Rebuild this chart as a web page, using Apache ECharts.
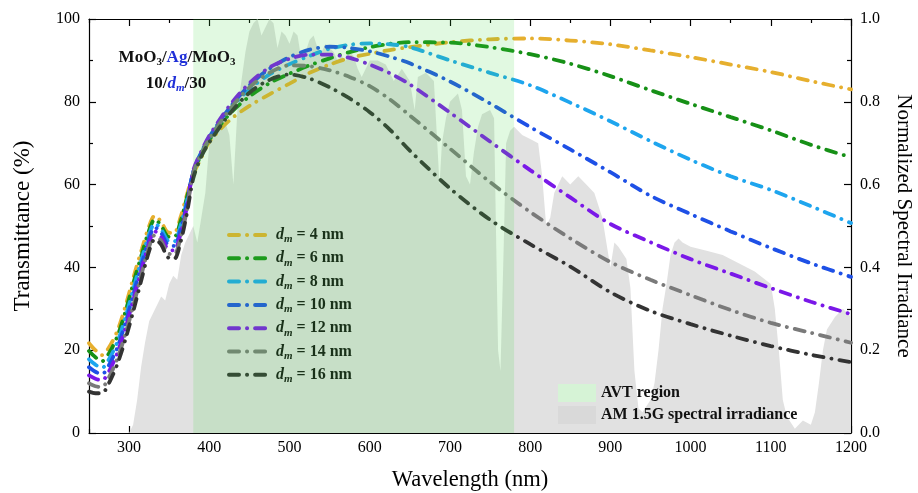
<!DOCTYPE html>
<html>
<head>
<meta charset="utf-8">
<script src="https://cdn.jsdelivr.net/npm/echarts@6/dist/echarts.min.js"></script>
<style>
  html, body { margin: 0; padding: 0; background: #fff; }
  #chart { width: 918px; height: 493px; }
</style>
</head>
<body>
<div id="chart"></div>
<script>
// Wavelength grid (nm) of the transmittance spectra
const wavelengths = [250, 258, 266, 276, 286, 296, 306, 316, 325, 332, 340, 348, 356, 364, 372, 380, 390,
  400, 425, 450, 475, 500, 525, 550, 575, 600, 625, 650, 700, 750, 800, 850, 900, 950, 1000, 1050, 1100, 1150, 1200];

// Transmittance (%) for each Ag thickness d_m
const trans4 = [21.7, 20.0, 18.8, 21.0, 25.0, 31.0, 38.0, 44.5, 50.0, 52.5, 51.0, 48.5, 48.3, 52.0, 57.5, 62.5, 66.5,
  70.3, 75.5, 79.0, 81.8, 84.4, 87.0, 89.0, 90.6, 91.6, 92.5, 93.2, 94.4, 95.1, 95.3, 94.8, 93.9, 92.4, 90.8, 89.0, 87.2, 85.0, 83.0];
const trans6 = [19.8, 18.3, 17.3, 19.6, 23.7, 29.7, 36.7, 43.3, 49.0, 51.6, 50.1, 47.5, 47.3, 51.0, 56.8, 62.8, 67.2,
  70.8, 77.0, 81.3, 84.5, 86.8, 88.8, 90.5, 92.0, 93.2, 94.0, 94.4, 94.3, 93.2, 91.5, 89.2, 86.2, 82.8, 79.5, 76.3, 73.1, 69.6, 66.6];
const trans8 = [17.8, 16.5, 15.7, 18.2, 22.3, 28.3, 35.3, 42.2, 48.0, 50.6, 49.2, 46.5, 46.2, 50.0, 56.0, 63.0, 67.6,
  71.2, 78.0, 83.0, 86.6, 89.1, 91.1, 92.8, 93.8, 94.1, 93.9, 93.2, 90.0, 87.0, 84.0, 79.8, 75.3, 70.5, 66.0, 62.0, 58.7, 54.8, 50.7];
const trans10 = [15.9, 14.8, 14.2, 16.8, 21.0, 27.0, 34.0, 41.0, 47.0, 49.7, 48.3, 45.5, 45.2, 49.0, 55.3, 63.2, 67.8,
  71.5, 78.5, 84.0, 88.0, 90.8, 92.6, 93.3, 93.0, 92.2, 90.9, 89.3, 84.9, 79.6, 73.9, 68.5, 63.0, 57.3, 52.9, 48.7, 44.7, 41.0, 37.7];
const trans12 = [13.9, 13.1, 12.7, 15.3, 19.7, 25.7, 32.7, 39.8, 46.0, 48.7, 47.3, 44.5, 44.1, 48.0, 54.5, 63.4, 68.0,
  71.8, 79.0, 84.5, 88.3, 90.4, 91.4, 91.4, 90.6, 89.0, 86.9, 84.2, 77.4, 70.4, 63.5, 56.9, 50.5, 46.1, 42.0, 38.5, 35.0, 31.7, 28.7];
const trans14 = [12.0, 11.3, 11.1, 13.9, 18.3, 24.3, 31.3, 38.7, 45.0, 47.8, 46.4, 43.5, 43.1, 47.0, 53.8, 62.8, 67.5,
  71.0, 78.0, 83.5, 87.0, 88.8, 88.6, 87.6, 86.0, 83.8, 80.6, 76.7, 68.7, 60.6, 53.4, 47.0, 41.3, 37.0, 33.3, 29.7, 26.6, 24.2, 21.8];
const trans16 = [10.0, 9.6, 9.6, 12.5, 17.0, 23.0, 30.0, 37.5, 44.0, 46.8, 45.5, 42.5, 42.0, 46.0, 53.0, 61.5, 66.8,
  70.2, 77.0, 82.2, 85.3, 86.6, 85.6, 83.5, 80.8, 77.5, 73.3, 68.2, 59.1, 51.5, 45.6, 40.2, 34.0, 29.5, 26.3, 23.5, 21.0, 18.9, 17.1];

const thicknesses = [4, 6, 8, 10, 12, 14, 16];
const transSeries = [trans4, trans6, trans8, trans10, trans12, trans14, trans16];
const lineColors = ['#E6AF2E', '#169016', '#1EA5EE', '#1E50E6', '#7A18E8', '#7A7A7A', '#333333'];

// AM 1.5G spectral irradiance, normalised to its maximum
const specWl = [300, 305, 310, 315, 320, 325, 330, 335, 340, 345,
  350, 355, 360, 365, 370, 375, 380, 385, 390, 395,
  400, 405, 410, 415, 420, 425, 430, 435, 440, 445,
  450, 455, 460, 465, 470, 475, 480, 485, 490, 495,
  500, 505, 510, 515, 520, 525, 530, 535, 540, 545,
  550, 555, 560, 565, 570, 575, 580, 585, 590, 595,
  600, 610, 620, 630, 640, 650, 656, 660, 670, 680,
  687, 690, 695, 700, 710, 715, 720, 725, 730, 735,
  740, 750, 755, 760, 763, 767, 770, 775, 780, 790,
  800, 810, 815, 820, 825, 830, 840, 850, 860, 870,
  880, 890, 900, 905, 910, 920, 925, 930, 935, 940,
  950, 955, 960, 965, 970, 975, 980, 985, 990, 1000,
  1020, 1040, 1060, 1080, 1100, 1105, 1110, 1115, 1120, 1130,
  1140, 1150, 1155, 1160, 1165, 1170, 1180, 1190, 1200];
const specVal = [0.00, 0.02, 0.08, 0.16, 0.22, 0.27, 0.29, 0.31, 0.33, 0.32,
  0.36, 0.38, 0.37, 0.43, 0.46, 0.48, 0.50, 0.46, 0.52, 0.58,
  0.70, 0.72, 0.74, 0.76, 0.75, 0.72, 0.60, 0.78, 0.85, 0.92,
  0.97, 0.99, 1.00, 0.96, 0.98, 1.00, 0.99, 0.93, 0.97, 0.96,
  0.94, 0.97, 0.96, 0.90, 0.92, 0.95, 0.96, 0.93, 0.92, 0.94,
  0.93, 0.92, 0.90, 0.91, 0.90, 0.92, 0.91, 0.88, 0.86, 0.88,
  0.90, 0.90, 0.89, 0.85, 0.88, 0.85, 0.78, 0.86, 0.87, 0.85,
  0.60, 0.70, 0.76, 0.80, 0.82, 0.78, 0.62, 0.60, 0.68, 0.74,
  0.77, 0.78, 0.76, 0.20, 0.15, 0.45, 0.70, 0.73, 0.74, 0.72,
  0.71, 0.70, 0.62, 0.50, 0.52, 0.58, 0.62, 0.60, 0.62, 0.60,
  0.58, 0.52, 0.40, 0.46, 0.45, 0.42, 0.35, 0.15, 0.06, 0.05,
  0.08, 0.12, 0.20, 0.30, 0.36, 0.43, 0.46, 0.47, 0.46, 0.45,
  0.44, 0.43, 0.41, 0.39, 0.36, 0.30, 0.20, 0.08, 0.04, 0.01,
  0.03, 0.02, 0.05, 0.12, 0.20, 0.25, 0.28, 0.30, 0.28];

// Average visible transmittance window (nm) and its full height (%)
const avtRange = [380, 780];
const avtTop = 100;

// Axis ticks
const xMajorTicks = [300, 400, 500, 600, 700, 800, 900, 1000, 1100, 1200];
const xMinorTicks = [250, 350, 450, 550, 650, 750, 850, 950, 1050, 1150];

const FONT = "'Liberation Serif', 'Times New Roman', serif";
const dashDot = [10, 8, 0.1, 8];

const chart = echarts.init(document.getElementById('chart'), null, { renderer: 'canvas' });

function xAxisDef(position, ticks, len, withLine, withLabels) {
  const ax = {
    type: 'value', gridIndex: 0, position: position, min: 250, max: 1200,
    axisLine: { show: withLine, onZero: false, lineStyle: { color: '#000', width: 1.2 } },
    axisTick: { show: true, inside: true, length: len, customValues: ticks, lineStyle: { color: '#000', width: 1.2 } },
    axisLabel: {
      show: withLabels, customValues: ticks, fontFamily: FONT, fontSize: 16, color: '#000', margin: 7,
      formatter: v => String(v)
    },
    splitLine: { show: false }
  };
  if (withLabels) {
    ax.name = 'Wavelength (nm)';
    ax.nameLocation = 'middle';
    ax.nameGap = 36;
    ax.nameTextStyle = { fontFamily: FONT, fontSize: 22.5, color: '#000' };
  }
  return ax;
}

const lineSeries = thicknesses.map((d, k) => ({
  type: 'line',
  name: 'dm = ' + d + ' nm',
  xAxisIndex: 0, yAxisIndex: 0,
  data: wavelengths.map((w, i) => [w, transSeries[k][i]]),
  symbol: 'none',
  smooth: 0.3,
  z: 3,
  lineStyle: { color: lineColors[k], width: 3.8, type: dashDot, cap: 'round' },
  itemStyle: { color: lineColors[k] }
}));

const option = {
  animation: false,
  backgroundColor: '#fff',
  grid: { left: 89, right: 67, top: 19, bottom: 60, containLabel: false, outerBoundsMode: 'none' },
  // Axis position conflicts flip to the opposite side, so the order below places
  // major ticks bottom/top first, then the minor-tick axes on bottom/top.
  xAxis: [
    xAxisDef('bottom', xMajorTicks, 7, true, true),
    xAxisDef('top', xMajorTicks, 7, true, false),
    xAxisDef('top', xMinorTicks, 4, false, false),
    xAxisDef('bottom', xMinorTicks, 4, false, false)
  ],
  yAxis: [
    {
      type: 'value', position: 'left', min: 0, max: 100, interval: 20,
      axisLine: { show: true, lineStyle: { color: '#000', width: 1.2 } },
      axisTick: { show: true, inside: true, length: 7, lineStyle: { color: '#000', width: 1.2 } },
      minorTick: { show: true, splitNumber: 2, length: 4, lineStyle: { color: '#000', width: 1.2 } },
      axisLabel: { fontFamily: FONT, fontSize: 16, color: '#000', margin: 9 },
      splitLine: { show: false },
      name: 'Transmittance (%)', nameLocation: 'middle', nameGap: 55, nameRotate: 90,
      nameTextStyle: { fontFamily: FONT, fontSize: 23, color: '#000' }
    },
    {
      type: 'value', position: 'right', min: 0, max: 1, interval: 0.2,
      axisLine: { show: true, lineStyle: { color: '#000', width: 1.2 } },
      axisTick: { show: true, inside: true, length: 7, lineStyle: { color: '#000', width: 1.2 } },
      minorTick: { show: true, splitNumber: 2, length: 4, lineStyle: { color: '#000', width: 1.2 } },
      axisLabel: { fontFamily: FONT, fontSize: 16, color: '#000', margin: 9, formatter: v => v.toFixed(1) },
      splitLine: { show: false },
      name: 'Normalized Spectral Irradiance', nameLocation: 'middle', nameGap: 42, nameRotate: -90,
      nameTextStyle: { fontFamily: FONT, fontSize: 21, color: '#000' }
    }
  ],
  legend: [
    {
      data: lineSeries.map(s => s.name),
      orient: 'vertical', left: 222, top: 222,
      itemWidth: 42, itemHeight: 12, itemGap: 5.3,
      itemStyle: { opacity: 0 },
      lineStyle: { width: 4 },
      formatter: name => '{d|d}{m|m}{t| = ' + name.replace('dm = ', '') + '}',
      textStyle: {
        fontFamily: FONT, fontSize: 16, fontWeight: 'bold', color: '#111',
        rich: {
          d: { fontFamily: FONT, fontSize: 16, fontWeight: 'bold', fontStyle: 'italic', color: '#111', lineHeight: 20 },
          m: { fontFamily: FONT, fontSize: 11, fontWeight: 'bold', fontStyle: 'italic', color: '#111', lineHeight: 11, verticalAlign: 'bottom' },
          t: { fontFamily: FONT, fontSize: 16, fontWeight: 'bold', color: '#111', lineHeight: 20 }
        }
      }
    },
    {
      data: [
        { name: 'AVT region', icon: 'rect', itemStyle: { color: '#D6F3D6' } },
        { name: 'AM 1.5G spectral irradiance', icon: 'rect', itemStyle: { color: '#D9D9D9' } }
      ],
      orient: 'vertical', left: 553, top: 379,
      itemWidth: 38, itemHeight: 18, itemGap: 4,
      textStyle: { fontFamily: FONT, fontSize: 16, fontWeight: 'bold', color: '#111' }
    }
  ],
  graphic: [
    {
      type: 'text', x: 177, y: 58, z: 20,
      style: {
        text: '{b|MoO}{s|3}{b|/}{a|Ag}{b|/MoO}{s|3}',
        align: 'center', verticalAlign: 'middle',
        rich: {
          b: { fontFamily: FONT, fontSize: 17, fontWeight: 'bold', fill: '#111', lineHeight: 20 },
          a: { fontFamily: FONT, fontSize: 17, fontWeight: 'bold', fill: '#2030D8', lineHeight: 20 },
          s: { fontFamily: FONT, fontSize: 11, fontWeight: 'bold', fill: '#111', lineHeight: 11, verticalAlign: 'bottom' }
        }
      }
    },
    {
      type: 'text', x: 176, y: 84, z: 20,
      style: {
        text: '{b|10/}{d|d}{m|m}{b|/30}',
        align: 'center', verticalAlign: 'middle',
        rich: {
          b: { fontFamily: FONT, fontSize: 17, fontWeight: 'bold', fill: '#111', lineHeight: 20 },
          d: { fontFamily: FONT, fontSize: 17, fontWeight: 'bold', fontStyle: 'italic', fill: '#2030D8', lineHeight: 20 },
          m: { fontFamily: FONT, fontSize: 11, fontWeight: 'bold', fontStyle: 'italic', fill: '#2030D8', lineHeight: 11, verticalAlign: 'bottom' }
        }
      }
    }
  ],
  series: [
    {
      type: 'line',
      name: 'AM 1.5G spectral irradiance',
      xAxisIndex: 0, yAxisIndex: 1,
      data: specWl.map((w, i) => [w, specVal[i]]),
      symbol: 'none',
      z: 1,
      silent: true,
      lineStyle: { width: 0 },
      itemStyle: { color: '#D9D9D9' },
      areaStyle: { color: '#E1E1E1', opacity: 1 }
    },
    ...lineSeries,
    {
      // Transparent green band laid over the spectra
      type: 'line',
      name: 'AVT region',
      xAxisIndex: 0, yAxisIndex: 0,
      data: [[avtRange[0], avtTop], [avtRange[1], avtTop]],
      symbol: 'none',
      silent: true,
      z: 10,
      lineStyle: { width: 0 },
      itemStyle: { color: '#D6F3D6' },
      areaStyle: { color: 'rgba(70, 215, 70, 0.16)', opacity: 1, origin: 'start' }
    }
  ]
};

chart.setOption(option);
</script>
</body>
</html>
